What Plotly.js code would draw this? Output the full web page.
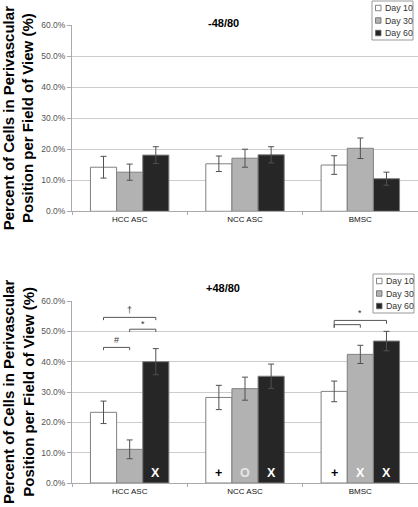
<!DOCTYPE html>
<html>
<head>
<meta charset="utf-8">
<script src="https://cdn.plot.ly/plotly-3.0.1.min.js"></script>
<style>html,body{margin:0;padding:0;background:#fff;}#chart{width:418px;height:507px;}</style>
</head>
<body>
<div id="chart"></div>
<script>
// ---------- data ----------
const categories = ['HCC ASC', 'NCC ASC', 'BMSC'];
const seriesNames = ['Day 10', 'Day 30', 'Day 60'];

// Panel 1: -48/80
const topTitle = '-48/80';
const topDay10 = [14.2, 15.3, 14.9];
const topDay30 = [12.6, 17.1, 20.3];
const topDay60 = [18.1, 18.2, 10.5];
const topErr10 = [3.5, 2.5, 3.0];
const topErr30 = [2.6, 2.9, 3.3];
const topErr60 = [2.7, 2.6, 2.1];

// Panel 2: +48/80
const botTitle = '+48/80';
const botDay10 = [23.3, 28.2, 30.2];
const botDay30 = [11.1, 31.1, 42.4];
const botDay60 = [40.0, 35.2, 46.8];
const botErr10 = [3.7, 4.0, 3.4];
const botErr30 = [3.1, 3.8, 3.0];
const botErr60 = [4.3, 4.0, 3.2];

// in-bar symbols (panel 2)
const symDay10 = ['', '+', '+'];
const symDay30 = ['', 'O', 'X'];
const symDay60 = ['X', 'X', 'X'];

// significance brackets (panel 2): category, from series, to series, level, left drop, right drop, label
const brCat   = [0, 0, 0, 2, 2];
const brFrom  = [0, 1, 0, 0, 0];
const brTo    = [2, 2, 1, 2, 1];
const brY     = [54.6, 50.7, 44.7, 53.6, 52.2];
const brDropL = [53.7, 49.8, 43.8, 51.2, 51.2];
const brDropR = [53.7, 49.8, 43.8, 52.5, 51.2];
const brLabel = ['†', '*', '#', '*', ''];
const brLabelY = [57.0, 52.4, 47.0, 56.2, 0];

const yTitle = '<b>Percent of Cells in Perivascular<br>Position per Field of View (%)</b>';

// ---------- styling ----------
const fills = ['#ffffff', '#b2b2b2', '#262626'];
const outline = '#808080';
const FONT = 'Arial, Liberation Sans, sans-serif';
const W = 418, H = 507;
const M = {l: 72, r: 0, t: 25, b: 24};
const PW = W - M.l - M.r, PH = H - M.t - M.b;
const px2x = p => (p - M.l) / PW;
const px2y = p => (H - M.b - p) / PH;
const bargap = 0.32;
const barW = (1 - bargap) / 3;
const off = j => (j - 1) * barW;

const topVals = [topDay10, topDay30, topDay60];
const topErrs = [topErr10, topErr30, topErr60];
const botVals = [botDay10, botDay30, botDay60];
const botErrs = [botErr10, botErr30, botErr60];

const traces = [];
function addPanel(vals, errs, xa, ya) {
  for (let j = 0; j < 3; j++) {
    traces.push({
      type: 'bar', name: seriesNames[j], x: categories, y: vals[j],
      xaxis: xa, yaxis: ya, showlegend: false,
      marker: {color: fills[j], line: {color: outline, width: 1}},
      error_y: {type: 'data', array: errs[j], visible: true, color: '#505050', thickness: 1, width: 3},
      hoverinfo: 'skip'
    });
  }
}
addPanel(topVals, topErrs, 'x', 'y');
addPanel(botVals, botErrs, 'x2', 'y2');

const annotations = [];
const shapes = [];

// panel titles
annotations.push({text: '<b>' + topTitle + '</b>', xref: 'paper', yref: 'paper', x: px2x(223), y: px2y(15),
  showarrow: false, font: {family: FONT, size: 11, color: '#000'}});
annotations.push({text: '<b>' + botTitle + '</b>', xref: 'paper', yref: 'paper', x: px2x(223), y: px2y(288),
  showarrow: false, font: {family: FONT, size: 11, color: '#000'}});

// y titles
[[25.3, 211.3], [301, 483]].forEach(r => {
  annotations.push({text: yTitle, xref: 'paper', yref: 'paper', x: px2x(18), y: px2y((r[0] + r[1]) / 2),
    xanchor: 'center', yanchor: 'middle', textangle: -90, showarrow: false,
    font: {family: FONT, size: 15, color: '#000'}});
});

// legends (drawn manually, compact like the original)
function legend(left, top) {
  const right = left + 41, bottom = top + 39;
  shapes.push({type: 'rect', xref: 'paper', yref: 'paper', x0: px2x(left), x1: px2x(right),
    y0: px2y(bottom), y1: px2y(top), line: {color: '#999', width: 1}, fillcolor: '#fff', layer: 'above'});
  for (let j = 0; j < 3; j++) {
    const cy = top + 7 + j * 12.5;
    shapes.push({type: 'rect', xref: 'paper', yref: 'paper', x0: px2x(left + 3.5), x1: px2x(left + 9),
      y0: px2y(cy + 2.75), y1: px2y(cy - 2.75), line: {color: '#666', width: 0.8}, fillcolor: fills[j], layer: 'above'});
    annotations.push({text: seriesNames[j], xref: 'paper', yref: 'paper', x: px2x(left + 10.5), y: px2y(cy),
      xanchor: 'left', yanchor: 'middle', showarrow: false, font: {family: FONT, size: 8.8, color: '#333'}});
  }
}
legend(372, 1);
legend(373, 274);

// in-bar symbols
const syms = [symDay10, symDay30, symDay60];
const symColors = {'X': '#ffffff', 'O': '#e6e6e6', '+': '#000000'};
for (let j = 0; j < 3; j++) {
  for (let i = 0; i < categories.length; i++) {
    const s = syms[j][i];
    if (!s) continue;
    annotations.push({text: '<b>' + s + '</b>', xref: 'x2', yref: 'y2', x: i + off(j), y: 0,
      yanchor: 'middle', yshift: 10, showarrow: false,
      font: {family: FONT, size: 12.5, color: symColors[s]}});
  }
}

// significance brackets
for (let k = 0; k < brCat.length; k++) {
  const xa = brCat[k] + off(brFrom[k]);
  const xb = brCat[k] + off(brTo[k]);
  const ln = {color: '#555', width: 1};
  shapes.push({type: 'line', xref: 'x2', yref: 'y2', x0: xa, x1: xb, y0: brY[k], y1: brY[k], line: ln});
  shapes.push({type: 'line', xref: 'x2', yref: 'y2', x0: xa, x1: xa, y0: brY[k], y1: brDropL[k], line: ln});
  shapes.push({type: 'line', xref: 'x2', yref: 'y2', x0: xb, x1: xb, y0: brY[k], y1: brDropR[k], line: ln});
  if (brLabel[k]) {
    annotations.push({text: brLabel[k], xref: 'x2', yref: 'y2', x: (xa + xb) / 2, y: brLabelY[k],
      yanchor: 'middle', showarrow: false, font: {family: FONT, size: 9, color: '#333'}});
  }
}

function xAxis(anchor) {
  return {anchor: anchor, type: 'category', domain: [0, 1], tickson: 'boundaries', ticks: 'outside',
    ticklen: 3, tickcolor: '#aaa', showline: true, linecolor: '#aaa', linewidth: 1, showgrid: false,
    tickfont: {family: FONT, size: 8, color: '#111'}, fixedrange: true};
}
function yAxis(anchor, domain) {
  return {anchor: anchor, domain: domain, range: [0, 60], dtick: 10, tickformat: '.1f', ticksuffix: '%',
    showgrid: true, gridcolor: '#cccccc', gridwidth: 1, zeroline: false, showline: true, linecolor: '#aaa',
    ticks: 'outside', ticklen: 4, tickcolor: '#aaa', tickfont: {family: FONT, size: 8.5, color: '#555'},
    fixedrange: true};
}

const layout = {
  width: W, height: H, margin: M, paper_bgcolor: '#fff', plot_bgcolor: '#fff',
  barmode: 'group', bargap: bargap, bargroupgap: 0, showlegend: false,
  xaxis: xAxis('y'), yaxis: yAxis('x', [px2y(211.3), 1]),
  xaxis2: xAxis('y2'), yaxis2: yAxis('x2', [0, px2y(301)]),
  annotations: annotations, shapes: shapes
};

Plotly.newPlot('chart', traces, layout, {staticPlot: true, displayModeBar: false});
</script>
</body>
</html>
